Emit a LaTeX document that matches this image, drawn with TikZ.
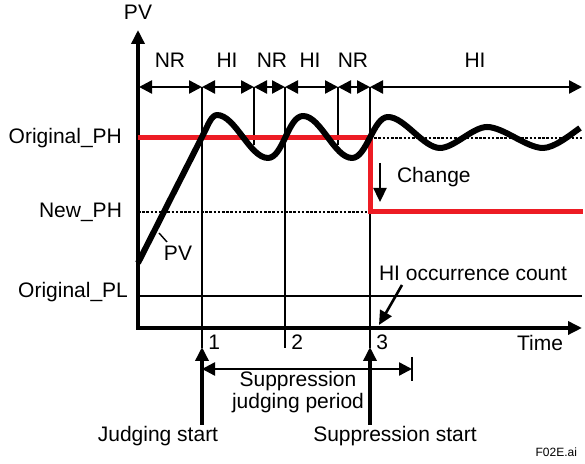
\documentclass[tikz,border=0pt]{standalone}
\usepackage{fontspec}
\setmainfont{Liberation Sans}
\usetikzlibrary{arrows.meta}
\definecolor{phred}{RGB}{237,28,36}

\begin{document}
\begin{tikzpicture}[x=0.5pt, y=0.5pt, font=\fontsize{10.5}{12}\selectfont,
	>={Triangle[length=6.5pt,width=6.5pt]},
	segarrow/.style={<->, line width=1.2pt},
	bigarrow/.style={-{Triangle[length=7pt,width=6.5pt]}, line width=1.7pt},
	guide/.style={line width=0.7pt},
	limit/.style={dash pattern=on 1.3pt off 0.8pt, line width=1.4pt}]
	\useasboundingbox (0,0) rectangle (585,464);
	%axis
	\coordinate (o) at (138,136);
	\draw[bigarrow] (138,134) -- (138,434) node[above=1pt] (pv axis) {PV};
	\draw[bigarrow] (137,136) -- (582,136);
	\node (time) at (540,121) {Time};
	%levels
	\node[anchor=east] (oph) at (129,326) {Original\_PH};
	\node[anchor=east] (nph) at (129,252) {New\_PH};
	\node[anchor=east] (opl) at (135,172) {Original\_PL};
	\draw[guide] (138,168) -- (582,168);
	\draw[limit] (370,326) -- (582,326);
	\draw[limit] (138,252) -- (370,252);
	%judging sections
	\foreach \a/\b in {139/202, 202/254, 254/285, 285/338, 338/370, 370/582}
	\draw[segarrow] (\a,377) -- (\b,377);
	\foreach \x/\t in {170/NR, 227/HI, 272/NR, 310/HI, 353/NR, 475/HI}
	\node (sec\x) at (\x,404) {\t};
	\foreach \x in {254,338}
	\draw[guide] (\x,377) -- (\x,319);
	\foreach \x/\n in {202/1, 285/2, 370/3}
	{
		\draw[guide] (\x,377) -- (\x,116);
		\node[anchor=west, inner sep=2pt] (cnt\n) at (\x+2,122) {\n};
	}
	%PH setting
	\draw[phred, line width=2.5pt] (138,326) -- (370,326) -- (370,252) -- (583,252);
	\draw[bigarrow, line width=1.2pt] (380,301) -- (380,262);
	\node[anchor=west] (change) at (390,287) {Change};
	%PV
	\draw[line width=3pt, line join=round, looseness=0.7]
	(138,201) -- (205,333) to[out=63, in=180] (217,349)
	to[out=0, in=180] (268,306) to[out=0, in=180] (303,348)
	to[out=0, in=180] (352,306) to[out=0, in=180] (388,347)
	to[out=0, in=180] (440,316) to[out=0, in=180] (487,337)
	to[out=0, in=180] (543,316) to[out=0, in=215] (580,336);
	\draw[guide] (159,231) -- (167,222);
	\node (pv) at (178,211) {PV};
	%count
	\node (hic) at (473,191) {HI occurrence count};
	\coordinate (hic foot) at (402,179);
	\draw[bigarrow, line width=1.3pt] (hic foot) -- (379,139);
	%period
	\draw[segarrow] (202,95) -- (412,95);
	\draw[guide] (412,107) -- (412,83);
	\node[align=center, font=\fontsize{10.5}{9.5}\selectfont] (period) at (298,72)
	{Suppression\\judging period};
	\draw[bigarrow] (202,39) -- (202,117);
	\draw[bigarrow] (370,39) -- (370,117);
	\node (jstart) at (158,28) {Judging start};
	\node (sstart) at (395,28) {Suppression start};
	\node[anchor=east, font=\fontsize{6}{7}\selectfont] (fig) at (584,12) {F02E.ai};
\end{tikzpicture}
\end{document}
